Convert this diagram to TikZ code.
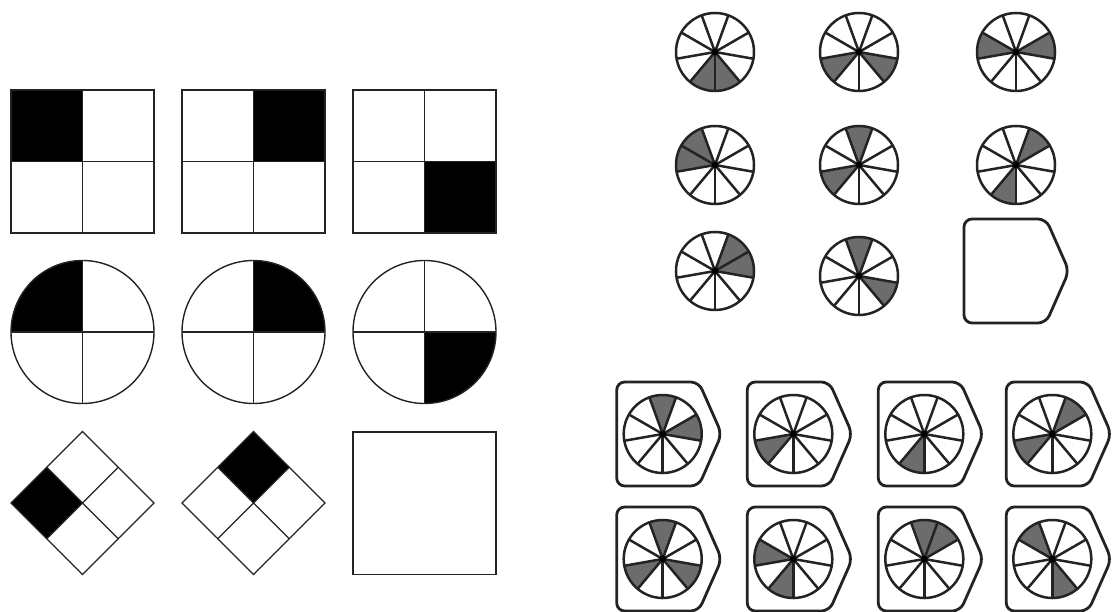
\documentclass[tikz,border=0pt]{standalone}
\usepackage{tikz}
\definecolor{sectorgray}{RGB}{108,108,108}
\definecolor{inkline}{RGB}{35,35,35}

\begin{document}
\begin{tikzpicture}[
  x=1pt,y=1pt,
  edgeline/.style={draw=inkline,line width=1.4pt},
  spokeline/.style={draw=inkline,line width=2.5pt,line join=round,line cap=round},
  pics/quadsq/.style args={#1/#2}{code={
    \fill (0,0) rectangle (#1*71.5,#2*71.5);
    \draw[edgeline] (-71.5,-71.5) rectangle (71.5,71.5);
    \draw[edgeline] (-71.5,0)--(71.5,0) (0,-71.5)--(0,71.5);}},
  pics/quadcirc/.style={code={
    \fill (0,0)--(#1:71.5) arc[start angle=#1,delta angle=90,radius=71.5]--cycle;
    \draw[edgeline] (0,0) circle[radius=71.5];
    \draw[edgeline] (-71.5,0)--(71.5,0) (0,-71.5)--(0,71.5);}},
  pics/wheel/.style={code={
    \foreach \k in {#1}
      \fill[sectorgray] (0,0)--({270+40*\k}:39) arc[start angle=270+40*\k,delta angle=40,radius=39]--cycle;
    \foreach \k in {0,...,8}
      \draw[spokeline] (0,0)--({270+40*\k}:39);
    \draw[spokeline] (0,0) circle[radius=39];
    \fill[black] (0,0) circle[radius=3.4];}},
  pics/frame/.style={code={
    \draw[spokeline,line width=2.8pt,rounded corners=8pt] (-46,0)--(-46,52)--(36,52)--(59,0)--(36,-52)--(-46,-52)--cycle;}}]
  \useasboundingbox (0,0) rectangle (1113,611);
  % left matrix
  \pic (sqa) at (82.5,449.5) {quadsq=-1/1};
  \pic (sqb) at (253.5,449.5) {quadsq=1/1};
  \pic (sqc) at (424.5,449.5) {quadsq=1/-1};
  \pic (cia) at (82.5,279) {quadcirc=90};
  \pic (cib) at (253.5,279) {quadcirc=0};
  \pic (cic) at (424.5,279) {quadcirc=270};
  \pic[rotate=45,scale=0.7071] (dia) at (82.5,108) {quadsq=-1/1};
  \pic[rotate=45,scale=0.7071] (dib) at (253.5,108) {quadsq=1/1};
  \draw[edgeline,line width=1.9pt] (353,36.5) rectangle (496,179);
  % right matrix
  \pic (wa) at (715,559) {wheel={8,0}};
  \pic (wb) at (859,559) {wheel={7,1}};
  \pic (wc) at (1016,559) {wheel={6,2}};
  \pic (wd) at (715,446) {wheel={5,6}};
  \pic (we) at (859,446) {wheel={4,7}};
  \pic (wf) at (1016,446) {wheel={3,8}};
  \pic (wg) at (715,340) {wheel={3,2}};
  \pic (wh) at (859,335) {wheel={4,1}};
  \pic (blank) at (1010,340) {frame};
  % options
  \pic (oa) at (662.7,177) {frame}; \pic at (662.7,177) {wheel={4,2}};
  \pic (ob) at (793.3,177) {frame}; \pic at (793.3,177) {wheel={7}};
  \pic (oc) at (924.3,177) {frame}; \pic at (924.3,177) {wheel={8}};
  \pic (od) at (1052.3,177) {frame}; \pic at (1052.3,177) {wheel={3,7}};
  \pic (oe) at (662.7,52) {frame}; \pic at (662.7,52) {wheel={4,7,1}};
  \pic (of) at (793.3,52) {frame}; \pic at (793.3,52) {wheel={6,8}};
  \pic (og) at (924.3,52) {frame}; \pic at (924.3,52) {wheel={4,3}};
  \pic (oh) at (1052.3,52) {frame}; \pic at (1052.3,52) {wheel={5,0}};
\end{tikzpicture}
\end{document}
